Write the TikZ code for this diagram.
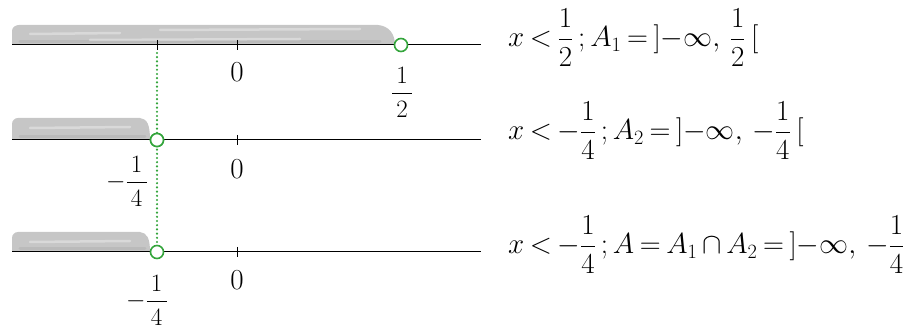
\documentclass[tikz,border=0pt]{standalone}
\usepackage{fix-cm}
\usepackage{amsmath}
\definecolor{ptgreen}{RGB}{52,165,60}
\newcommand{\opn}{\mathopen{]}{-}\infty,\,}
\newcommand{\cls}{\;\mathclose{[}}
\newcommand{\tightmath}{\thickmuskip=3.5mu plus 2mu\relax\medmuskip=3mu plus 1mu\relax}
\begin{document}
\begin{tikzpicture}[x=1pt,y=-1pt,
  axisline/.style={line width=1pt,black},
  tickmark/.style={line width=1pt,black},
  band/.style={fill=gray!45,draw=none},
  streak/.style={white,opacity=0.35,line width=2.5pt,line cap=round},
  dstreak/.style={black,opacity=0.06,line width=3pt,line cap=round},
  hole/.style={circle,draw=ptgreen,line width=1.6pt,fill=white,minimum size=13pt,inner sep=0pt},
  guide/.style={ptgreen,line width=2.4pt,dash pattern=on 0pt off 4.2pt,line cap=round},
  lab/.style={font=\fontsize{29}{34}\selectfont,inner sep=0pt},
  flab/.style={font=\fontsize{25}{30}\selectfont,inner sep=0pt},
  eq/.style={font=\fontsize{29}{35}\selectfont,anchor=base west,inner sep=0pt}]
\useasboundingbox (0,0) rectangle (924,331);
% shaded bands
\fill[band] (12,45) -- (12,31) to[out=90,in=180] (19,25) -- (378,25)
  .. controls (389,26) and (395,34) .. (395,45) -- cycle;
\draw[dstreak] (20,42) -- (380,42);
\draw[streak] (30,34) -- (120,33);
\draw[streak] (90,40) -- (300,39);
\draw[streak] (160,30) -- (360,29);
\fill[band] (12,140) -- (12,124) to[out=90,in=180] (18,118) -- (140,118)
  .. controls (147,119) and (150,124) .. (150,140) -- cycle;
\draw[dstreak] (20,137) -- (145,137);
\draw[streak] (30,128) -- (130,127);
\fill[band] (12,252) -- (12,238) to[out=90,in=180] (18,232) -- (140,232)
  .. controls (147,233) and (150,238) .. (150,252) -- cycle;
\draw[dstreak] (20,249) -- (145,249);
\draw[streak] (30,242) -- (130,241);
% axes
\coordinate (a1s) at (12,45);  \coordinate (a1e) at (481,45);
\coordinate (a2s) at (12,140); \coordinate (a2e) at (481,140);
\coordinate (a3s) at (12,252); \coordinate (a3e) at (481,252);
\draw[axisline] (a1s) -- (a1e);
\draw[axisline] (a2s) -- (a2e);
\draw[axisline] (a3s) -- (a3e);
% ticks
\draw[tickmark] (157,40) -- (157,50);
\draw[tickmark] (237,40) -- (237,50);
\draw[tickmark] (237,135) -- (237,145);
\draw[tickmark] (237,247) -- (237,257);
% dotted guide
\coordinate (t1) at (157,53);
\node[hole] (c1) at (401,45) {};
\node[hole] (c2) at (157,140) {};
\node[hole] (c3) at (157,252) {};
\draw[guide] (t1) -- (c3.north);
\node[hole] at (c2) {};
% labels under axes
\node[lab] (z1) at (237,72) {$0$};
\node[lab] (z2) at (237,169) {$0$};
\node[lab] (z3) at (237,280) {$0$};
\node[flab] (f1) at (402,92) {$\dfrac{\,1\,}{\,2\,}$};
\node[flab] (f2) at (127,181) {$-\dfrac{\,1\,}{\,4\,}$};
\node[flab] (f3) at (147,300) {$-\dfrac{\,1\,}{\,4\,}$};
% right-hand equations
\node[eq] (e1) at (508,47) {$\tightmath x<\dfrac{1}{2}\,;A_1=\opn\dfrac{1}{2}\cls$};
\node[eq] (e2) at (508,140) {$\tightmath x<-\dfrac{1}{4}\,;A_2=\opn-\dfrac{1}{4}\cls$};
\node[eq] (e3) at (508,254) {$\tightmath x<-\dfrac{1}{4}\,;A=A_1\cap A_2=\opn-\dfrac{1}{4}$};
\end{tikzpicture}
\end{document}
